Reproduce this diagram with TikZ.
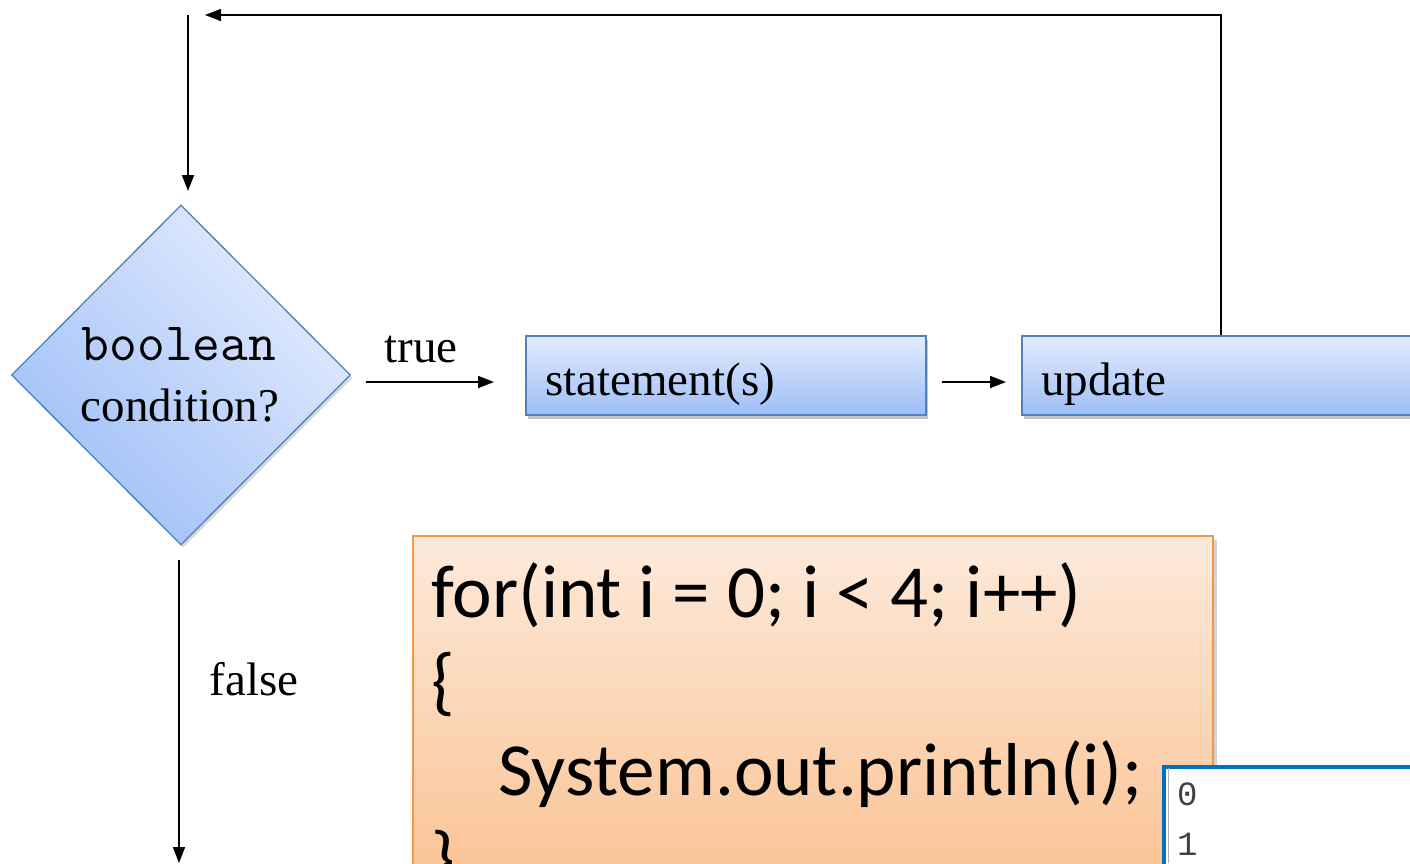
\documentclass[tikz,border=0pt]{standalone}
\usepackage{fontspec}
\setmainfont{Liberation Serif}
\newfontfamily\codefont{Carlito}
\newfontfamily\courfont{Liberation Mono}
\usetikzlibrary{shapes.geometric,arrows.meta,shadows}
\definecolor{bluelight}{HTML}{E3ECFD}
\definecolor{bluedark}{HTML}{9EBEF8}
\definecolor{blueedge}{HTML}{4F81BD}
\definecolor{orlight}{HTML}{FDEADB}
\definecolor{ordark}{HTML}{FABF8D}
\definecolor{oredge}{HTML}{F79646}
\definecolor{outblue}{HTML}{0070C0}
\tikzset{
  arr/.style={line width=1.7pt, -{Triangle[length=16pt,width=12pt]}},
  flowbox/.style={rectangle, draw=blueedge, line width=1.5pt, top color=bluelight, bottom color=bluedark,
    inner sep=0pt, anchor=north west,
    drop shadow={opacity=0.45, shadow xshift=2pt, shadow yshift=-4pt}},
  lbl/.style={font=\fontsize{47}{56}\selectfont, inner sep=0pt, anchor=base},
  codeline/.style={font=\codefont\fontsize{75}{90}\selectfont, inner sep=0pt, anchor=base west},
  outline/.style={font=\courfont\fontsize{34}{40}\selectfont, text=black!75, inner sep=0pt, anchor=base west},
}
\begin{document}
\begin{tikzpicture}[x=1pt,y=-1pt]
\clip (0,0) rectangle (1410,863);
\fill[white] (0,0) rectangle (1410,863);

% decision diamond
\node[diamond, draw=blueedge, line width=1.3pt, minimum width=339pt, minimum height=340pt, inner sep=0pt,
      top color=bluelight, bottom color=bluedark, shading angle=-45,
      drop shadow={opacity=0.3, shadow xshift=2pt, shadow yshift=-3pt}] (cond) at (181,375) {};
\node[lbl, font=\ttfamily\fontsize{54}{60}\selectfont] (condA) at (179,360) {boolean};
\node[lbl] (condB) at (180,421) {condition?};

% boxes
\node[flowbox, minimum width=400pt, minimum height=79pt] (stmt) at (525,335) {};
\node[lbl, anchor=base west] (stmtT) at (545,395) {statement(s)};
\node[flowbox, minimum width=480pt, minimum height=79pt] (upd) at (1021,335) {};
\node[lbl, anchor=base west] (updT) at (1041,395) {update};

% coordinates for connector ends
\coordinate (inTop) at (188,15);
\coordinate (inEnd) at (188,191);
\coordinate (updTop) at (1221,335);
\coordinate (loopCorner) at (1221,15);
\coordinate (loopEnd) at (205,15);
\coordinate (trueStart) at (366,382);
\coordinate (trueEnd) at (494,382);
\coordinate (midStart) at (942,382);
\coordinate (midEnd) at (1006,382);
\coordinate (falseStart) at (179,560);
\coordinate (falseEnd) at (179,863);

% connectors
\draw[arr] (inTop) -- (inEnd);
\draw[arr] (updTop) -- (loopCorner) -- (loopEnd);
\draw[arr] (trueStart) -- (trueEnd);
\draw[arr] (midStart) -- (midEnd);
\draw[arr] (falseStart) -- (falseEnd);
\node[lbl] (trueL) at (421,362) {true};
\node[lbl] (falseL) at (254,695) {false};

% code box
\node[rectangle, draw=oredge, line width=1.5pt, top color=orlight, bottom color=ordark, inner sep=0pt,
      anchor=north west, minimum width=800pt, minimum height=380pt,
      drop shadow={opacity=0.35, shadow xshift=4pt, shadow yshift=-4pt}] (code) at (412,535) {};
\node[codeline] (c1) at (431,617) {for(int i = 0; i < 4; i++)};
\node[codeline] (c2) at (431,706) {\{};
\node[codeline] (c3) at (498,795) {System.out.println(i);};
\node[codeline] (c4) at (431,884) {\}};

% output window
\node[rectangle, draw=outblue, line width=4pt, fill=white, inner sep=0pt, anchor=north west,
      minimum width=400pt, minimum height=200pt] (out) at (1162,765) {};
\draw[black!30, line width=1.2pt] (1168.5,768) -- (1168.5,863);
\node[outline] (o1) at (1177,805) {0};
\node[outline] (o2) at (1177,855) {1};
\end{tikzpicture}
\end{document}
